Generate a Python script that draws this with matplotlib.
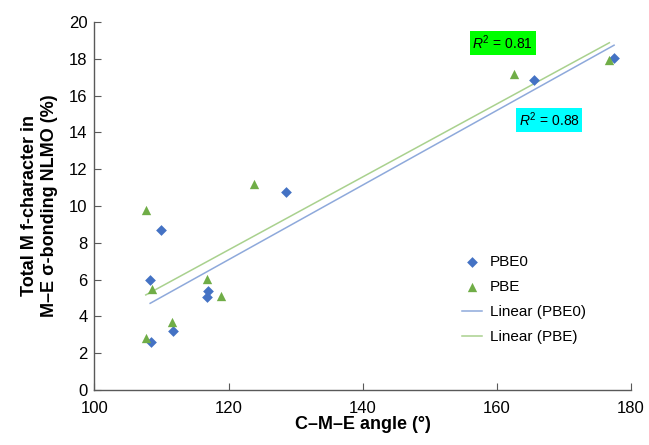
import numpy as np
import matplotlib
matplotlib.use("Agg")
import matplotlib.pyplot as plt

plt.rcParams['font.family'] = ['Liberation Sans', 'DejaVu Sans']
plt.rcParams['mathtext.fontset'] = 'custom'
plt.rcParams['mathtext.rm'] = 'Liberation Sans'
plt.rcParams['mathtext.it'] = 'Liberation Sans:italic'
plt.rcParams['mathtext.bf'] = 'Liberation Sans:bold'

pbe0_x = [177.5, 165.5, 128.5, 109.9, 108.3, 116.9, 116.8, 111.75, 108.45]
pbe0_y = [18.05, 16.85, 10.75, 8.7, 6.0, 5.4, 5.05, 3.23, 2.6]
pbe_x = [176.8, 162.6, 123.8, 107.75, 108.65, 116.75, 118.85, 111.5, 107.65]
pbe_y = [17.95, 17.15, 11.2, 9.8, 5.5, 6.05, 5.1, 3.7, 2.85]
r2_labels = ["0.88", "0.81"]

blue = '#4472C4'
green = '#70AD47'
blue_line = '#8EA9DB'
green_line = '#A9D18E'

fig = plt.figure(figsize=(6.49, 4.45), dpi=100)
ax = fig.add_axes([0.1456, 0.1236, 0.8264, 0.827])

ax.scatter(pbe0_x, pbe0_y, marker='D', s=30, color=blue, label='PBE0', zorder=3, linewidths=0)
ax.scatter(pbe_x, pbe_y, marker='^', s=45, color=green, label='PBE', zorder=3, linewidths=0)

for xs, ys, col, lab in [(pbe0_x, pbe0_y, blue_line, 'Linear (PBE0)'),
                         (pbe_x, pbe_y, green_line, 'Linear (PBE)')]:
    m, b = np.polyfit(xs, ys, 1)
    xx = np.array([min(xs), max(xs)])
    ax.plot(xx, m * xx + b, color=col, lw=1.1, label=lab, zorder=2)

ax.text(167.8, 14.68, r'$R^2$ = ' + r2_labels[0], fontsize=10, ha='center', va='center',
        bbox=dict(boxstyle='square,pad=0.2', fc='#00FFFF', ec='none'))
ax.text(160.9, 18.87, r'$R^2$ = ' + r2_labels[1], fontsize=10, ha='center', va='center',
        bbox=dict(boxstyle='square,pad=0.2', fc='#00FF00', ec='none'))

ax.set_xlim(100, 180)
ax.set_ylim(0, 20)
ax.set_xticks(np.arange(100, 181, 20))
ax.set_yticks(np.arange(0, 21, 2))
for s in ['top', 'right']:
    ax.spines[s].set_visible(False)
for s in ['left', 'bottom']:
    ax.spines[s].set_color('#595959')
    ax.spines[s].set_linewidth(1.0)
ax.tick_params(axis='y', direction='in', length=5, color='#595959', labelsize=12, pad=5)
ax.tick_params(axis='x', direction='in', length=5, color='#595959', labelsize=12, pad=8)

ax.set_xlabel('C–M–E angle (°)', fontsize=13, fontweight='bold', labelpad=0)
ax.set_ylabel('Total M f-character in\nM–E σ-bonding NLMO (%)', fontsize=13,
              fontweight='bold', labelpad=8, linespacing=1.25)

leg = ax.legend(loc='center left', bbox_to_anchor=(0.66, 0.245), frameon=False, fontsize=11,
                handlelength=1.3, labelspacing=0.72, handletextpad=0.5)

fig.savefig('out.png', dpi=100)
